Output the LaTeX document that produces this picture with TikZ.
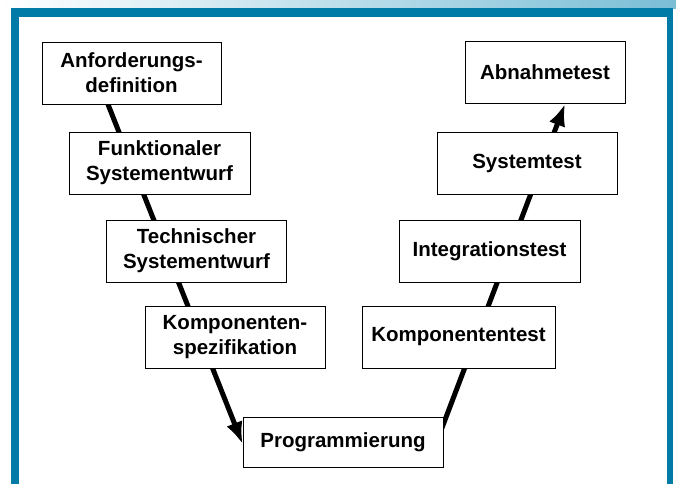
\documentclass[tikz,border=0pt]{standalone}
\usepackage{fontspec}
\setmainfont{Liberation Sans}
\usepackage{tikz}
\usetikzlibrary{arrows.meta}
\definecolor{framblue}{RGB}{0,122,166}
\definecolor{bandblue}{RGB}{122,190,214}
\tikzset{phase/.style={draw=black,line width=0.8pt,fill=white,inner sep=0pt,
           minimum height=62pt,align=center,font=\fontsize{20.5}{25}\selectfont\bfseries},
         vline/.style={line width=5pt,-{Latex[length=22pt,width=17pt]}}}
\pgfdeclarelayer{background}
\pgfdeclarelayer{lines}
\pgfsetlayers{background,lines,main}

\begin{document}
\begin{tikzpicture}[x=1pt,y=-1pt]
\useasboundingbox (0,0) rectangle (676,484);

%%frame with gradient band on top
\begin{pgfonlayer}{background}
\fill[white] (0,0) rectangle (676,484);
\shade[left color=white,right color=bandblue] (0,0) rectangle (676,8.5);
\fill[framblue] (11,8.5) rectangle (673,484);
\fill[white] (19,17) rectangle (667,484);
\end{pgfonlayer}

%%left branch of the V
\node[phase,minimum width=179pt] (anf) at (131.5,73) {Anforderungs-\\definition};
\node[phase,minimum width=181pt] (fkt) at (159.5,163) {Funktionaler\\Systementwurf};
\node[phase,minimum width=180pt] (tech) at (196.5,251) {Technischer\\Systementwurf};
\node[phase,minimum width=180pt] (komp) at (235,337.5) {Komponenten-\\spezifikation};

%%bottom
\node[phase,minimum width=200pt,minimum height=50pt] (prog) at (343,442) {Programmierung};

%%right branch of the V
\node[phase,minimum width=193pt] (ktest) at (458.5,337) {Komponententest};
\node[phase,minimum width=181pt] (itest) at (489.5,251) {Integrationstest};
\node[phase,minimum width=180pt] (stest) at (527,163) {Systemtest};
\node[phase,minimum width=160pt] (abn) at (545,72.5) {Abnahmetest};

%%the two arms run behind the boxes
\begin{pgfonlayer}{lines}
\draw[vline] ([xshift=-23.5pt]anf.south) -- ([yshift=-2pt]prog.west);
\draw[vline] ([xshift=-3pt,yshift=10pt]prog.east) -- ([xshift=20pt]abn.south);
\end{pgfonlayer}

\end{tikzpicture}
\end{document}
